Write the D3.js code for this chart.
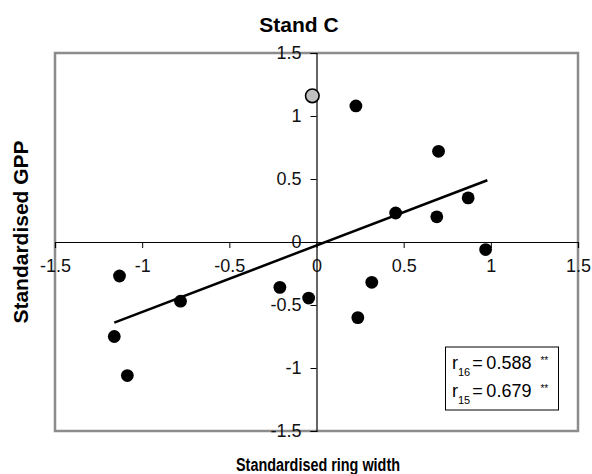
<!DOCTYPE html>
<html><head><meta charset="utf-8">
<script src="https://cdn.jsdelivr.net/npm/d3@7"></script>
<style>body{margin:0;background:#fff}svg{display:block}text{font-family:"Liberation Sans",Arial,sans-serif}</style>
</head><body><svg id="c" width="592" height="474"></svg>
<script>
const ringWidth = [0.226, 0.70, 0.454, 0.69, 0.87, 0.97, -1.13, -0.78, -0.21, -0.045, 0.317, 0.237, -1.16, -1.085];
const gpp       = [1.08, 0.72, 0.23, 0.20, 0.35, -0.06, -0.27, -0.47, -0.36, -0.445, -0.32, -0.60, -0.75, -1.06];
const outlierX = [-0.024];
const outlierY = [1.16];
const trendX = [-1.16, 0.98];
const trendY = [-0.64, 0.49];
const tickVals = [-1.5, -1, -0.5, 0, 0.5, 1, 1.5];
const tickLabels = ["-1.5", "-1", "-0.5", "0", "0.5", "1", "1.5"];
const statLines = [{sub:"16", val:"0.588"}, {sub:"15", val:"0.679"}];

const svg = d3.select("#c");
const x = d3.scaleLinear().domain([-1.5, 1.5]).range([55, 578]);
const y = d3.scaleLinear().domain([-1.5, 1.5]).range([431, 53]);

// plot frame
svg.append("rect").attr("x", 55).attr("y", 53).attr("width", 523).attr("height", 378)
  .attr("fill", "none").attr("stroke", "#8c8c8c").attr("stroke-width", 2.5);

// axes crossing at origin
const xAxis = d3.axisBottom(x).tickValues(tickVals).tickSize(6).tickPadding(11)
  .tickFormat((d, i) => tickLabels[i]);
const gx = svg.append("g").attr("transform", `translate(0,${y(0)})`).call(xAxis);
const yAxis = d3.axisLeft(y).tickValues(tickVals).tickSize(6).tickPadding(9)
  .tickFormat((d, i) => tickLabels[i]);
const gy = svg.append("g").attr("transform", `translate(${x(0)},0)`).call(yAxis);
[gx, gy].forEach(g => {
  g.select(".domain").attr("stroke", "#000").attr("stroke-width", 1.2);
  g.selectAll(".tick line").attr("stroke", "#000").attr("stroke-width", 1);
  g.selectAll(".tick text").attr("font-size", 18).attr("fill", "#111")
    .style("font-family", '"Liberation Sans",Arial,sans-serif');
});
gx.selectAll(".tick text").attr("dy", "0.71em");

// trend line
svg.append("line").attr("x1", x(trendX[0])).attr("y1", y(trendY[0]))
  .attr("x2", x(trendX[1])).attr("y2", y(trendY[1]))
  .attr("stroke", "#000").attr("stroke-width", 2.5);

// points
svg.append("g").selectAll("circle").data(ringWidth).join("circle")
  .attr("cx", d => x(d)).attr("cy", (d, i) => y(gpp[i])).attr("r", 6.4).attr("fill", "#000");
svg.append("g").selectAll("circle").data(outlierX).join("circle")
  .attr("cx", d => x(d)).attr("cy", (d, i) => y(outlierY[i])).attr("r", 6.8)
  .attr("fill", "#c0c0c0").attr("stroke", "#000").attr("stroke-width", 1.6);

// titles
svg.append("text").attr("x", 299).attr("y", 32).attr("text-anchor", "middle")
  .attr("font-size", 21).attr("font-weight", "bold").text("Stand C");
svg.append("text").attr("x", 318).attr("y", 471).attr("text-anchor", "middle")
  .attr("font-size", 17.5).attr("font-weight", "bold")
  .attr("textLength", 164).attr("lengthAdjust", "spacingAndGlyphs").text("Standardised ring width");
svg.append("text").attr("transform", "translate(28,232) rotate(-90)").attr("text-anchor", "middle")
  .attr("font-size", 21).attr("font-weight", "bold").text("Standardised GPP");

// stats box
svg.append("rect").attr("x", 445.5).attr("y", 347).attr("width", 113).attr("height", 63)
  .attr("fill", "#fff").attr("stroke", "#000").attr("stroke-width", 1);
statLines.forEach((s, i) => {
  const t = svg.append("text").attr("x", 452).attr("y", 369 + i * 28).attr("font-size", 18);
  t.append("tspan").text("r");
  t.append("tspan").attr("font-size", 11).attr("dy", 7).text(s.sub);
  t.append("tspan").attr("dy", -7).attr("dx", 2).text("=\u2009" + s.val);
  t.append("tspan").attr("font-size", 10).attr("dy", -5).attr("dx", 9).text("**");
});
</script></body></html>
